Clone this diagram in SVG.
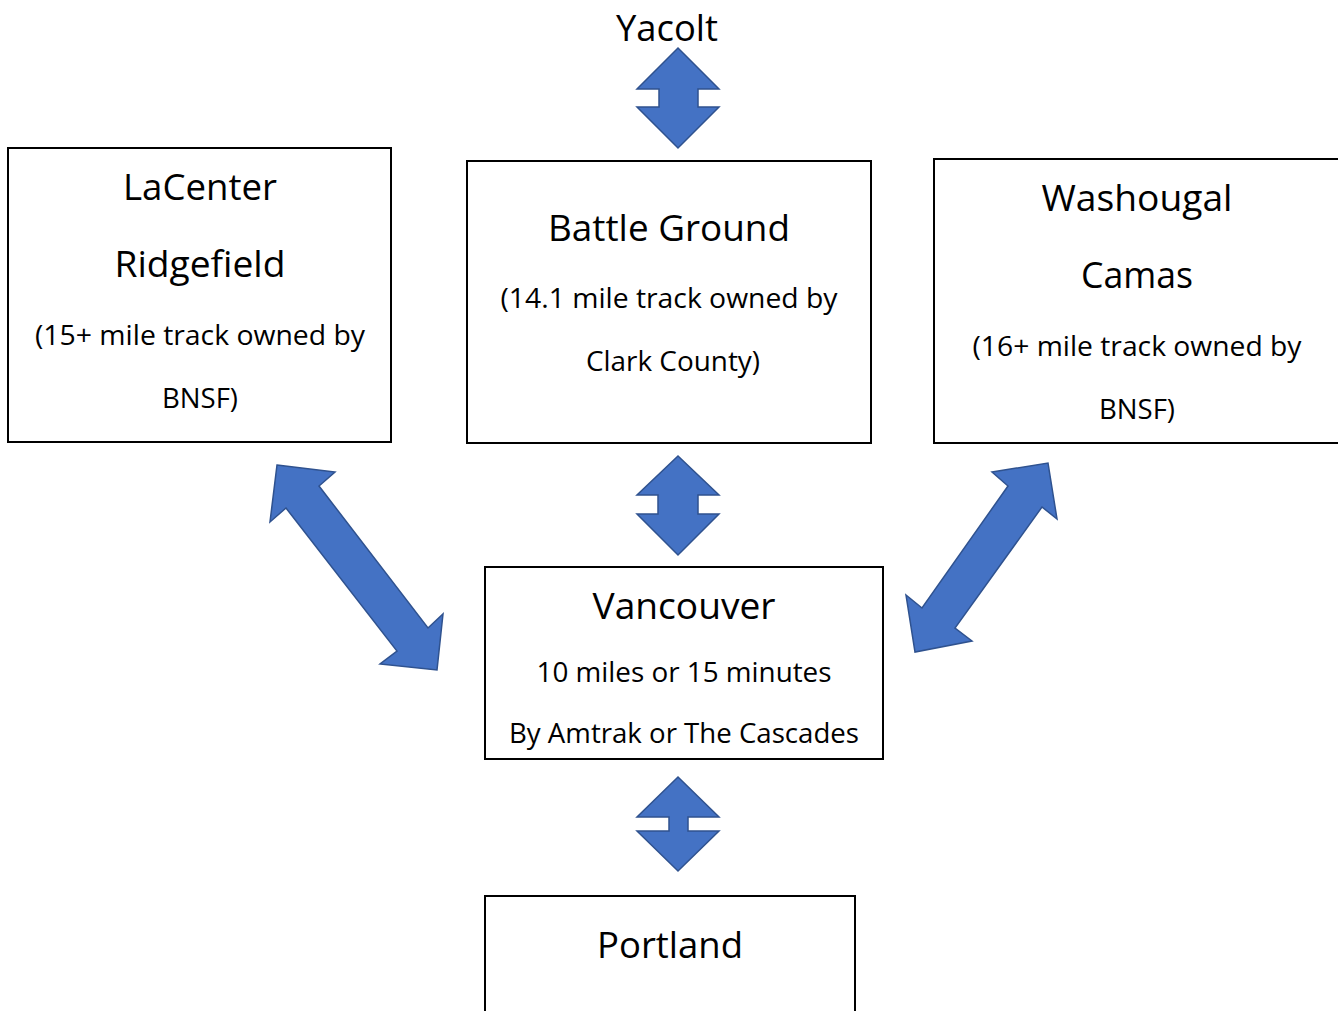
<svg xmlns="http://www.w3.org/2000/svg" width="1338" height="1011" viewBox="0 0 1338 1011">
<style>
.box{fill:#fff;stroke:#000;stroke-width:2}
.arr{fill:#4472C4;stroke:#2F528F;stroke-width:1.5;stroke-linejoin:miter}
text{font-family:"Open Sans","Noto Sans","Liberation Sans",sans-serif;fill:#000;text-anchor:middle}
.t{font-size:37px}
.s{font-size:28px}
</style>
<rect width="1338" height="1011" fill="#fff"/>
<g id="connectors">
<polygon class="arr" points="678,48 719,89 698,89 698,107 719,107 678,148 637,107 659,107 659,89 637,89"/>
<polygon class="arr" points="678,456 719,495 698,495 698,514 719,514 678,555 637,514 658,514 658,495 637,495"/>
<polygon class="arr" points="678,777 719,817 688,817 688,831 719,831 678,871 637,831 669,831 669,817 637,817"/>
<polygon class="arr" points="277,465 335,472 319,486 428,628 443,614 437,670 380,664 397,651 286,508 270,522"/>
<polygon class="arr" points="1048,463 1057,519 1042,507 955,628 972,641 915,652 906,595 922,608 1008,486 992,472"/>
</g>
<g id="yacolt">
<text class="t" x="667" y="41" textLength="102" lengthAdjust="spacingAndGlyphs">Yacolt</text>
</g>
<g id="lacenter">
<rect class="box" x="8" y="148" width="383" height="294"/>
<text class="t" x="200" y="200" textLength="154" lengthAdjust="spacingAndGlyphs">LaCenter</text>
<text class="t" x="200" y="277" textLength="171" lengthAdjust="spacingAndGlyphs">Ridgefield</text>
<text class="s" x="200" y="345" textLength="330" lengthAdjust="spacingAndGlyphs">(15+ mile track owned by</text>
<text class="s" x="200" y="408" textLength="76" lengthAdjust="spacingAndGlyphs">BNSF)</text>
</g>
<g id="battleground">
<rect class="box" x="467" y="161" width="404" height="282"/>
<text class="t" x="669" y="241" textLength="242" lengthAdjust="spacingAndGlyphs">Battle Ground</text>
<text class="s" x="669" y="308" textLength="337" lengthAdjust="spacingAndGlyphs">(14.1 mile track owned by</text>
<text class="s" x="673" y="371" textLength="174" lengthAdjust="spacingAndGlyphs">Clark County)</text>
</g>
<g id="washougal">
<rect class="box" x="934" y="159" width="410" height="284"/>
<text class="t" x="1137" y="211" textLength="191" lengthAdjust="spacingAndGlyphs">Washougal</text>
<text class="t" x="1137" y="288" textLength="112" lengthAdjust="spacingAndGlyphs">Camas</text>
<text class="s" x="1137" y="356" textLength="329" lengthAdjust="spacingAndGlyphs">(16+ mile track owned by</text>
<text class="s" x="1137" y="419" textLength="76" lengthAdjust="spacingAndGlyphs">BNSF)</text>
</g>
<g id="vancouver">
<rect class="box" x="485" y="567" width="398" height="192"/>
<text class="t" x="684" y="619" textLength="183" lengthAdjust="spacingAndGlyphs">Vancouver</text>
<text class="s" x="684" y="682" textLength="295" lengthAdjust="spacingAndGlyphs">10 miles or 15 minutes</text>
<text class="s" x="684" y="743" textLength="350" lengthAdjust="spacingAndGlyphs">By Amtrak or The Cascades</text>
</g>
<g id="portland">
<rect class="box" x="485" y="896" width="370" height="130"/>
<text class="t" x="670" y="958" textLength="146" lengthAdjust="spacingAndGlyphs">Portland</text>
</g>
</svg>
